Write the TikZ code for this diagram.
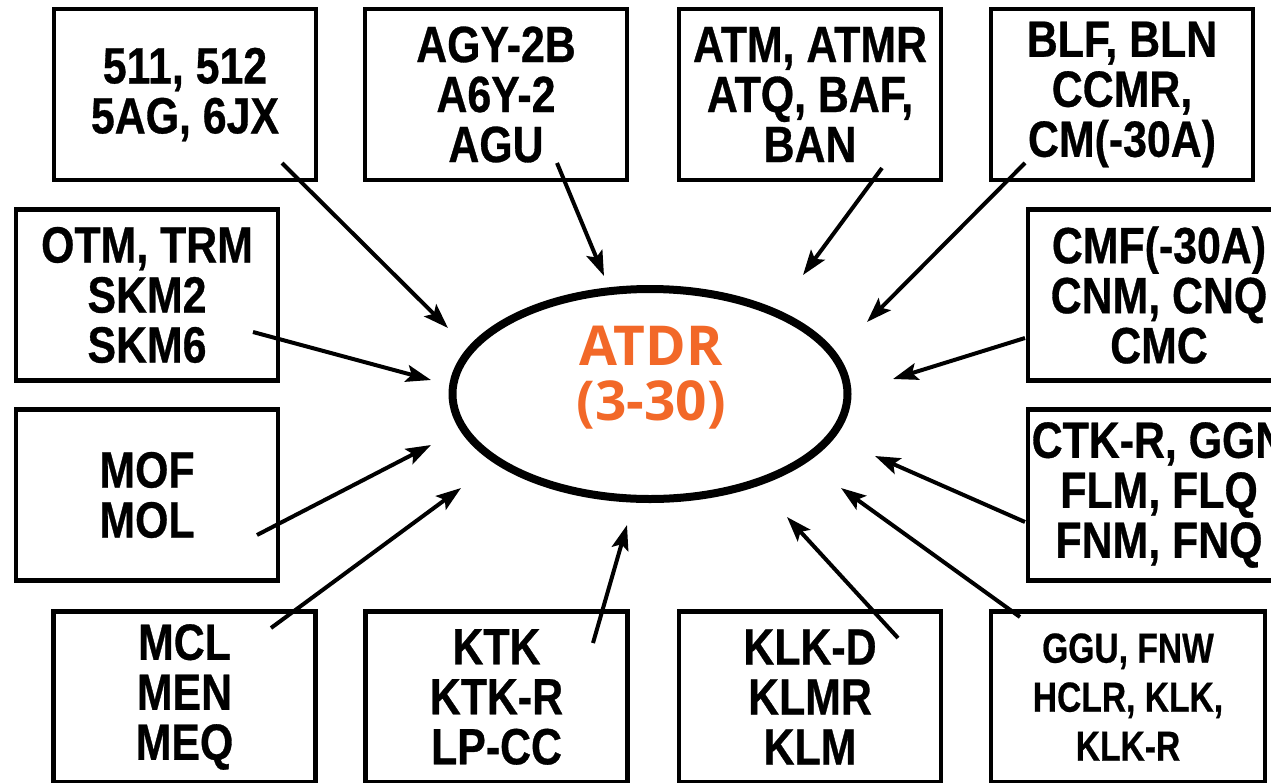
\documentclass[tikz,border=0pt]{standalone}
\usepackage{fontspec}
\newfontfamily\boxfont{Liberation Sans}[FakeStretch=0.84,FakeBold=0.6]
\newfontfamily\smallboxfont{Liberation Sans}[FakeStretch=0.8,FakeBold=0.5]
\newfontfamily\hubfont{Open Sans}
\usetikzlibrary{arrows.meta,shapes.geometric}
\definecolor{atorange}{RGB}{242,104,40}
\begin{document}
\begin{tikzpicture}[x=1pt,y=-1pt,
  box/.style={draw, line width=4.5pt, minimum width=262pt, minimum height=171pt,
    inner sep=0pt, align=center,
    font=\boxfont\bfseries\fontsize{51}{50}\selectfont},
  smallbox/.style={box, font=\smallboxfont\bfseries\fontsize{42}{49}\selectfont},
  arr/.style={line width=4pt, -{Stealth[length=25pt,width=17pt,inset=5pt]}}]
\useasboundingbox (0,0) rectangle (1271,782);
\clip (0,0) rectangle (1271,782);
\fill[white] (0,0) rectangle (1271,782);

% hub
\node[draw, ellipse, line width=8pt, minimum width=395pt, minimum height=210pt, inner sep=0pt] (hub) at (650,394) {};
\node[align=center, text=atorange, inner sep=0pt,
  font=\hubfont\bfseries\fontsize{55}{55}\selectfont] (hubtext) at (651,378) {ATDR\\(3-30)};

% boxes
\node[box] (b1) at (185,94.5) {511, 512\\5AG, 6JX};
\node[box] (b2) at (496,94.5) {AGY-2B\\A6Y-2\\AGU};
\node[box] (b3) at (810,94.5) {ATM, ATMR\\ATQ, BAF,\\BAN};
\node[box] (b4) at (1122,94.5) {BLF, BLN\\CCMR,\\CM(-30A)};
\node[box] (b5) at (147,295) {OTM, TRM\\SKM2\\SKM6};
\node[box] (b6) at (1159,295) {CMF(-30A)\\CNM, CNQ\\CMC};
\node[box] (b7) at (147,495) {MOF\\MOL};
\node[box] (b8) at (1159,495) {CTK-R, GGN\\FLM, FLQ\\FNM, FNQ};
\node[box] (b9) at (184.5,697) {MCL\\MEN\\MEQ};
\node[box] (b10) at (496.5,697) {KTK\\KTK-R\\LP-CC};
\node[box] (b11) at (810,697) {KLK-D\\KLMR\\KLM};
\node[smallbox, minimum width=274pt] (b12) at (1128,697) {GGU, FNW\\HCLR, KLK,\\KLK-R};

% connector ends
\coordinate (s1) at (282,163);  \coordinate (t1) at (448,328);
\coordinate (s2) at (557,163);  \coordinate (t2) at (604,276);
\coordinate (s3) at (882,168);  \coordinate (t3) at (803,275);
\coordinate (s4) at (1025,163); \coordinate (t4) at (867,322);
\coordinate (s5) at (253,332);  \coordinate (t5) at (431,380);
\coordinate (s6) at (1025,338); \coordinate (t6) at (893,379);
\coordinate (s7) at (257,535);  \coordinate (t7) at (431,445);
\coordinate (s8) at (271,628);  \coordinate (t8) at (461,488);
\coordinate (s9) at (593,643);  \coordinate (t9) at (627,525);
\coordinate (s10) at (898,638); \coordinate (t10) at (787,517);
\coordinate (s11) at (1020,617);\coordinate (t11) at (841,488);
\coordinate (s12) at (1025,522);\coordinate (t12) at (875,456);

\foreach \i in {1,...,12} \draw[arr] (s\i) -- (t\i);
\end{tikzpicture}
\end{document}
